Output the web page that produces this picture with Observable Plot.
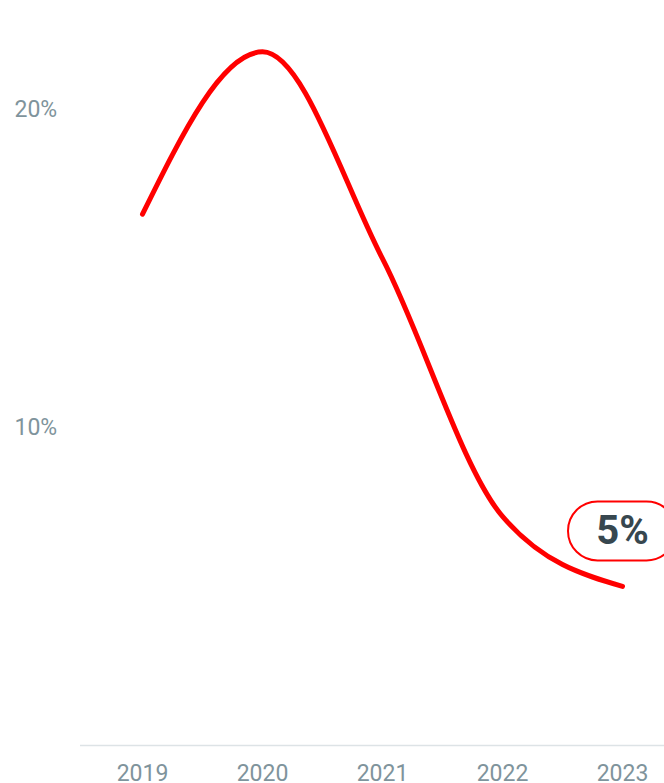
<!DOCTYPE html>
<html>
<head>
<meta charset="utf-8">
<script src="https://cdn.jsdelivr.net/npm/d3@7"></script>
<script src="https://cdn.jsdelivr.net/npm/@observablehq/plot@0.6"></script>
<style>
  html, body { margin: 0; padding: 0; overflow: hidden; background: #fff; width: 664px; height: 783px; }
  #chart svg { display: block; font-family: Roboto, sans-serif; overflow: hidden !important; }
</style>
</head>
<body>
<div id="chart"></div>
<script>
const years = ["2019", "2020", "2021", "2022", "2023"];
const values = [16.7, 21.8, 15.3, 7.2, 5.0];
const yTicks = [10, 20];
const lastLabel = "5%";

const data = years.map((y, i) => ({year: y, value: values[i]}));
const last = data[data.length - 1];

const axisColor = "#7f949c";

const chart = Plot.plot({
  width: 664,
  height: 783,
  marginLeft: 80,
  marginRight: -20,
  marginTop: 45,
  marginBottom: 38,
  style: {fontFamily: "Roboto, sans-serif", background: "#fff", overflow: "hidden"},
  x: {type: "point", domain: years, padding: 0.5},
  y: {domain: [0, 22]},
  marks: [
    Plot.ruleY([0], {stroke: "#dde3e6", strokeWidth: 1.5}),
    Plot.axisY(yTicks, {
      tickSize: 0, tickPadding: 66, textAnchor: "start",
      tickFormat: d => d + "%", fontSize: 23, fill: axisColor, label: null
    }),
    Plot.axisX({
      tickSize: 0, tickPadding: 19, fontSize: 23, fill: axisColor, label: null
    }),
    Plot.line(data, {
      x: "year", y: "value", stroke: "#ff0000", strokeWidth: 5,
      curve: "monotone-x", strokeLinecap: "round", strokeLinejoin: "round"
    }),
    Plot.rect([last], {
      x1: "year", x2: "year", y1: "value", y2: "value",
      insetLeft: -54, insetRight: -54, insetTop: -29.5, insetBottom: -29.5,
      dy: -55, rx: 29.5, ry: 29.5,
      fill: "#fff", stroke: "#ff0000", strokeWidth: 2
    }),
    Plot.text([last], {
      x: "year", y: "value", text: () => lastLabel, dy: -55,
      fontSize: 40, fontWeight: "bold", fill: "#37474f"
    })
  ]
});
document.getElementById("chart").append(chart);
</script>
</body>
</html>
